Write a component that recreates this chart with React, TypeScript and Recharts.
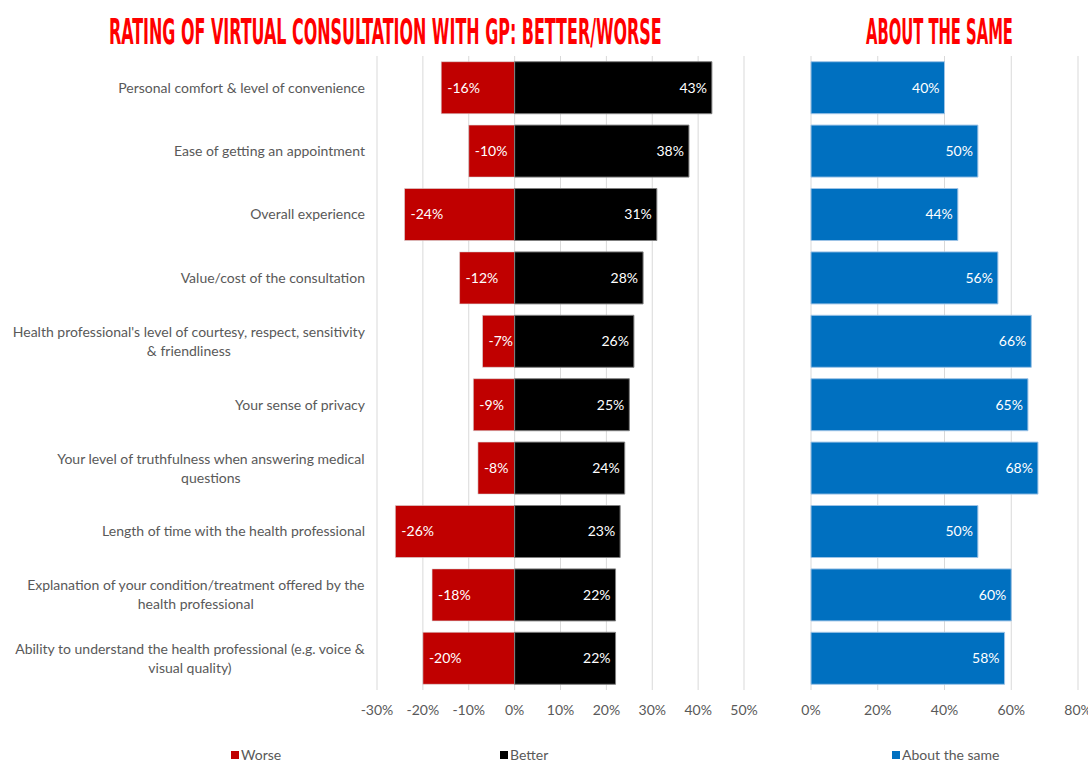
import React from 'react';
import { BarChart, Bar, XAxis, YAxis, CartesianGrid, LabelList } from 'recharts';

const categories = [
  'Personal comfort & level of convenience',
  'Ease of getting an appointment',
  'Overall experience',
  'Value/cost of the consultation',
  "Health professional's level of courtesy, respect, sensitivity\n& friendliness",
  'Your sense of privacy',
  'Your level of truthfulness when answering medical\nquestions',
  'Length of time with the health professional',
  'Explanation of your condition/treatment offered by the\nhealth professional',
  'Ability to understand the health professional (e.g. voice &\nvisual quality)',
];
const worse = [-16, -10, -24, -12, -7, -9, -8, -26, -18, -20];
const better = [43, 38, 31, 28, 26, 25, 24, 23, 22, 22];
const same = [40, 50, 44, 56, 66, 65, 68, 50, 60, 58];
const leftTicks = [-30, -20, -10, 0, 10, 20, 30, 40, 50];
const rightTicks = [0, 20, 40, 60, 80];
const titleLeft = 'RATING OF VIRTUAL CONSULTATION WITH GP: BETTER/WORSE';
const titleRight = 'ABOUT THE SAME';

const data = categories.map((c, i) => ({ category: c, worse: worse[i], better: better[i], same: same[i] }));

const FONT = 'Lato, "Open Sans", sans-serif';
const GRAY = '#595959';
const TITLE_FONT = '"DejaVu Sans Condensed", "Liberation Sans Narrow", "DejaVu Sans", sans-serif';
const pct = (v: number) => `${v}%`;

let ctx: CanvasRenderingContext2D | null = null;
const measure = (s: string, font: string = `14px ${FONT}`) => {
  if (!ctx) {
    ctx = document.createElement('canvas').getContext('2d');
  }
  if (!ctx) return s.length * 6.3;
  ctx.font = font;
  return ctx.measureText(s).width;
};

const CatTick = (props: any) => {
  const { y, payload } = props;
  const lines = String(payload.value).split('\n');
  const right = 365;
  if (lines.length === 1) {
    return (
      <text x={right} y={y} dy="0.35em" textAnchor="end" fill={GRAY} fontSize={14} fontFamily={FONT}>
        {lines[0]}
      </text>
    );
  }
  const maxW = Math.max(...lines.map((l) => measure(l)));
  const cx = right - maxW / 2;
  const lh = 19;
  return (
    <g>
      {lines.map((l, i) => (
        <text key={i} x={cx} y={y + (i - (lines.length - 1) / 2) * lh} dy="0.35em" textAnchor="middle" fill={GRAY} fontSize={14} fontFamily={FONT}>
          {l}
        </text>
      ))}
    </g>
  );
};

const startLabel = (p: any) => {
  const { x, y, width, height, value } = p;
  const left = Math.min(x, x + width);
  return (
    <text x={left + 6} y={y + height / 2} dy="0.35em" textAnchor="start" fill="#fff" fontSize={14} fontFamily={FONT}>
      {pct(value)}
    </text>
  );
};

const endLabel = (p: any) => {
  const { x, y, width, height, value } = p;
  const right = Math.max(x, x + width);
  return (
    <text x={right - 5} y={y + height / 2} dy="0.35em" textAnchor="end" fill="#fff" fontSize={14} fontFamily={FONT}>
      {pct(value)}
    </text>
  );
};

const axisTick = { fill: GRAY, fontSize: 14, fontFamily: FONT };

const Title = ({ text, x, y, w }: { text: string; x: number; y: number; w: number }) => {
  const natural = measure(text, `bold 36px ${TITLE_FONT}`) || w;
  const sx = w / natural;
  return (
    <g transform={`translate(${x},${y}) scale(${sx},1)`}>
      <text x={0} y={0} fill="#FF0000" fontSize={36} fontWeight="bold" fontFamily={TITLE_FONT}>
        {text}
      </text>
    </g>
  );
};

export default function App() {
  return (
    <div style={{ position: 'absolute', left: 0, top: 0, width: 1088, height: 764, background: '#fff', overflow: 'hidden' }}>
      <div style={{ position: 'absolute', left: 0, top: 0 }}>
        <BarChart
          width={760}
          height={764}
          data={data}
          layout="vertical"
          stackOffset="sign"
          barCategoryGap="9%"
          margin={{ top: 56, right: 16, bottom: 0, left: 0 }}
        >
          <CartesianGrid horizontal={false} stroke="#d9d9d9" />
          <XAxis
            type="number"
            domain={[-30, 50]}
            ticks={leftTicks}
            interval={0}
            tickFormatter={pct}
            axisLine={false}
            tickLine={false}
            height={74}
            tickMargin={9}
            tick={axisTick}
          />
          <YAxis
            type="category"
            dataKey="category"
            width={377}
            axisLine={false}
            tickLine={false}
            interval={0}
            tick={(p: any) => <CatTick {...p} />}
          />
          <Bar dataKey="worse" stackId="a" fill="#C00000" stroke="#d9d9d9" strokeWidth={0.6} isAnimationActive={false}>
            <LabelList dataKey="worse" content={startLabel} />
          </Bar>
          <Bar dataKey="better" stackId="a" fill="#000000" stroke="#7f7f7f" strokeWidth={1} isAnimationActive={false}>
            <LabelList dataKey="better" content={endLabel} />
          </Bar>
        </BarChart>
      </div>
      <div style={{ position: 'absolute', left: 780, top: 0 }}>
        <BarChart
          width={308}
          height={764}
          data={data}
          layout="vertical"
          barCategoryGap="9%"
          margin={{ top: 56, right: 10, bottom: 0, left: 31 }}
        >
          <CartesianGrid horizontal={false} stroke="#d9d9d9" />
          <XAxis
            type="number"
            domain={[0, 80]}
            ticks={rightTicks}
            interval={0}
            tickFormatter={pct}
            axisLine={false}
            tickLine={false}
            height={74}
            tickMargin={9}
            tick={axisTick}
          />
          <YAxis type="category" dataKey="category" hide />
          <Bar dataKey="same" fill="#0070C0" stroke="#9dc3e6" strokeWidth={1} isAnimationActive={false}>
            <LabelList dataKey="same" content={endLabel} />
          </Bar>
        </BarChart>
      </div>
      <svg width={1088} height={764} style={{ position: 'absolute', left: 0, top: 0, pointerEvents: 'none' }}>
        <Title text={titleLeft} x={109} y={44} w={553} />
        <Title text={titleRight} x={866} y={44} w={147} />
        <rect x={231} y={751} width={8} height={8} fill="#C00000" />
        <text x={241} y={760} fill={GRAY} fontSize={14} fontFamily={FONT}>Worse</text>
        <rect x={500} y={751} width={8} height={8} fill="#000000" />
        <text x={510} y={760} fill={GRAY} fontSize={14} fontFamily={FONT}>Better</text>
        <rect x={892} y={751} width={8} height={8} fill="#0070C0" />
        <text x={902} y={760} fill={GRAY} fontSize={14} fontFamily={FONT}>About the same</text>
      </svg>
    </div>
  );
}
